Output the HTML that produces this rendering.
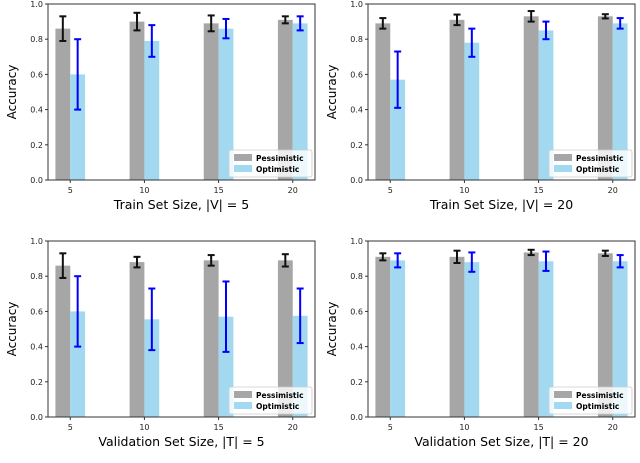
<!DOCTYPE html>
<html><head><meta charset="utf-8"><style>
body{margin:0;background:#fff;}
svg{display:block;font-family:"DejaVu Sans","Liberation Sans",sans-serif;}
</style></head><body>
<svg id="chart" width="640" height="463"></svg>
<script>
const categories=[5,10,15,20];
const yTicks=[0,0.2,0.4,0.6,0.8,1.0];
const p1Pess=[0.86,0.90,0.89,0.91], p1PessErr=[0.07,0.05,0.045,0.02];
const p1Opt=[0.60,0.79,0.86,0.89], p1OptErr=[0.20,0.09,0.055,0.04];
const p2Pess=[0.89,0.91,0.93,0.93], p2PessErr=[0.03,0.03,0.03,0.012];
const p2Opt=[0.57,0.78,0.85,0.89], p2OptErr=[0.16,0.08,0.05,0.03];
const p3Pess=[0.86,0.88,0.89,0.89], p3PessErr=[0.07,0.03,0.03,0.035];
const p3Opt=[0.60,0.555,0.57,0.575], p3OptErr=[0.20,0.175,0.20,0.155];
const p4Pess=[0.91,0.91,0.935,0.93], p4PessErr=[0.02,0.035,0.015,0.015];
const p4Opt=[0.89,0.88,0.885,0.885], p4OptErr=[0.04,0.055,0.055,0.035];
const xTitles=["Train Set Size, |V| = 5","Train Set Size, |V| = 20","Validation Set Size, |T| = 5","Validation Set Size, |T| = 20"];

const svg=document.getElementById('chart');
const NS='http://www.w3.org/2000/svg';
function mk(tag,attrs,parent){const e=document.createElementNS(NS,tag);for(const k in attrs)e.setAttribute(k,attrs[k]);(parent||svg).appendChild(e);return e;}
const panels=[
 {x0:48,x1:315,y0:4,y1:180,P:p1Pess,PE:p1PessErr,O:p1Opt,OE:p1OptErr},
 {x0:368,x1:635,y0:4,y1:180,P:p2Pess,PE:p2PessErr,O:p2Opt,OE:p2OptErr},
 {x0:48,x1:315,y0:241,y1:417,P:p3Pess,PE:p3PessErr,O:p3Opt,OE:p3OptErr},
 {x0:368,x1:635,y0:241,y1:417,P:p4Pess,PE:p4PessErr,O:p4Opt,OE:p4OptErr}];
panels.forEach((pn,i)=>{
 const g=mk('g',{});
 
 
 const xs=v=>pn.x0+(v-3.5)/(21.5-3.5)*(pn.x1-pn.x0);
 const ys=v=>pn.y1-v*(pn.y1-pn.y0);
 const bw=(xs(5)-xs(4));
 categories.forEach((c,j)=>{
  const cx=xs(c);
  const b1=mk('rect',{x:cx-bw,y:ys(pn.P[j]),width:bw,height:ys(0)-ys(pn.P[j]),fill:'#a6a6a6'},g);
  
  
  const b2=mk('rect',{x:cx,y:ys(pn.O[j]),width:bw,height:ys(0)-ys(pn.O[j]),fill:'#a3d9f0'},g);
  
  
  [[cx-bw/2,pn.P[j],pn.PE[j],'#111'],[cx+bw/2,pn.O[j],pn.OE[j],'#0000ff']].forEach(([ex,v,e,col],k)=>{
   const eg=mk('g',{stroke:col,'stroke-width':2},g);
   
   
   mk('line',{x1:ex,x2:ex,y1:ys(v-e),y2:ys(v+e)},eg);
   mk('line',{x1:ex-3.5,x2:ex+3.5,y1:ys(v-e),y2:ys(v-e)},eg);
   mk('line',{x1:ex-3.5,x2:ex+3.5,y1:ys(v+e),y2:ys(v+e)},eg);
  });
  mk('line',{x1:cx,x2:cx,y1:pn.y1,y2:pn.y1+3,stroke:'#333'},g);
  const t=mk('text',{x:cx,y:pn.y1+13,'font-size':8,'text-anchor':'middle',fill:'#222'},g);t.textContent=c;
  
 });
 yTicks.forEach(v=>{
  mk('line',{x1:pn.x0-3,x2:pn.x0,y1:ys(v),y2:ys(v),stroke:'#333'},g);
  const t=mk('text',{x:pn.x0-5,y:ys(v)+3,'font-size':8,'text-anchor':'end',fill:'#222'},g);t.textContent=v.toFixed(1);
  
 });
 mk('rect',{x:pn.x0,y:pn.y0,width:pn.x1-pn.x0,height:pn.y1-pn.y0,fill:'none',stroke:'#333','stroke-width':1},g);
 const yl=mk('text',{x:0,y:0,'font-size':12,'text-anchor':'middle',transform:`translate(${pn.x0-32},${(pn.y0+pn.y1)/2}) rotate(-90)`},g);yl.textContent='Accuracy';
 
 const xl=mk('text',{x:(pn.x0+pn.x1)/2,y:pn.y1+29,'font-size':12.5,'text-anchor':'middle'},g);xl.textContent=xTitles[i];
 
 const lg=mk('g',{},g);
 
 const lx=pn.x1-86,ly=pn.y1-30;
 mk('rect',{x:lx,y:ly,width:83,height:27,rx:2,fill:'#fff','fill-opacity':0.8,stroke:'#ccc','stroke-width':0.8},lg);
 mk('rect',{x:lx+5,y:ly+4,width:18,height:7,fill:'#a6a6a6'},lg);
 mk('rect',{x:lx+5,y:ly+15,width:18,height:7,fill:'#a3d9f0'},lg);
 const t1=mk('text',{x:lx+27,y:ly+11,'font-size':7.5,'font-weight':'bold'},lg);t1.textContent='Pessimistic';
 
 const t2=mk('text',{x:lx+27,y:ly+22,'font-size':7.5,'font-weight':'bold'},lg);t2.textContent='Optimistic';
 
});
</script>
</body></html>
